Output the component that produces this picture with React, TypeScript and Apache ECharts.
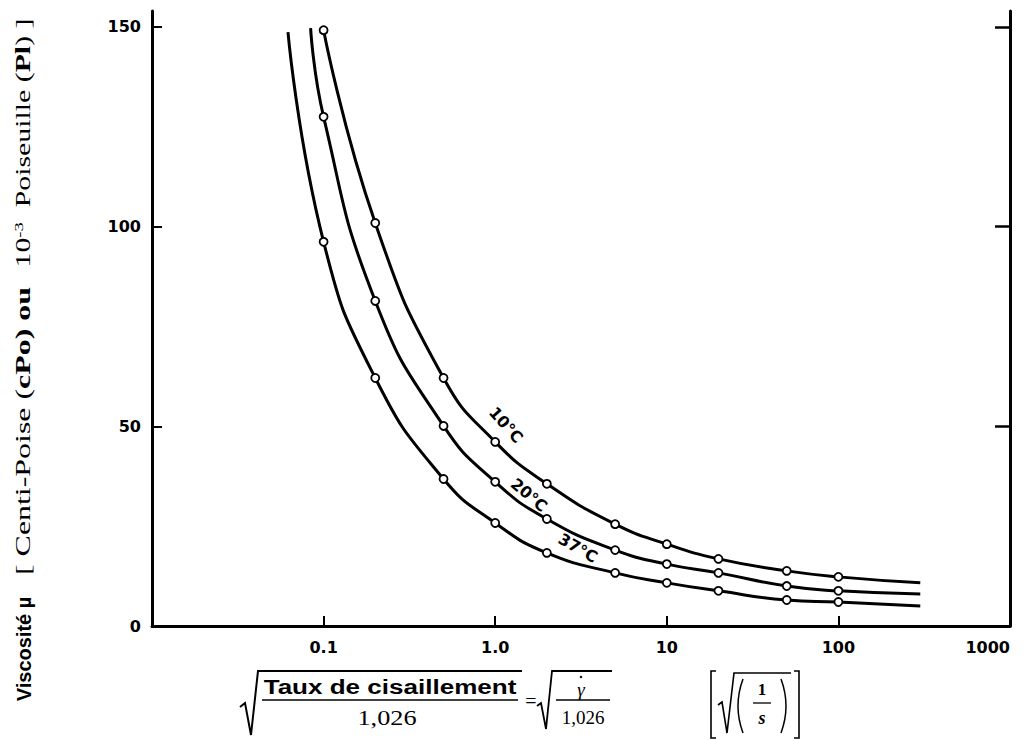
import React, { useEffect, useRef } from 'react';
import * as echarts from 'echarts';

// ---- data ----
const shearRate = [0.1, 0.2, 0.5, 1, 2, 5, 10, 20, 50, 100];
const visc10C = [149.2, 100.9, 62.1, 46.1, 35.6, 25.5, 20.5, 16.8, 13.8, 12.3];
const visc20C = [127.5, 81.4, 50.1, 36.1, 26.8, 19.0, 15.5, 13.3, 10.0, 8.8];
const visc37C = [96.2, 62.1, 36.8, 25.8, 18.3, 13.3, 10.8, 8.8, 6.5, 6.0];
// curve ends drawn without markers
const curveStartRate = [null, 0.084, 0.062];
const curveStartVisc = [null, 149.7, 148.7];
const curveEndRate = 300;
const curveEndVisc = [10.8, 8.0, 5.0];
const seriesNames = ['10°C', '20°C', '37°C'];
const xTicks = [0.01, 0.1, 1, 10, 100, 1000];
const xTickLabels = ['', '0.1', '1.0', '10', '100', '1000'];
const yTicks = [0, 50, 100, 150];
const yRightTicks = [50, 100, 150];

const SERIF = '"Liberation Serif", "DejaVu Serif", serif';
const SANS = '"Liberation Sans", Arial, sans-serif';
const TICKFONT = '"DejaVu Sans", sans-serif';

function txt(x: number, y: number, text: string, font: string, extra: any = {}) {
  return {
    type: 'text',
    x,
    y,
    ...extra,
    style: {
      text,
      font,
      fill: '#000',
      align: 'center',
      verticalAlign: 'middle',
      textAlign: 'center',
      textVerticalAlign: 'middle',
      ...(extra.style || {}),
    },
  };
}

function poly(points: number[][], lineWidth = 2) {
  return {
    type: 'polyline',
    shape: { points },
    style: { stroke: '#000', lineWidth, fill: null },
  };
}

function seg(x1: number, y1: number, x2: number, y2: number, lineWidth = 1.5) {
  return {
    type: 'line',
    shape: { x1, y1, x2, y2 },
    style: { stroke: '#000', lineWidth },
  };
}

export default function App() {
  const ref = useRef<HTMLDivElement>(null);

  useEffect(() => {
    if (!ref.current) return;
    const chart = echarts.init(ref.current, undefined, { renderer: 'svg' });
    const allVisc = [visc10C, visc20C, visc37C];

    const series = allVisc.map((vals, i) => {
      const data: any[] = [];
      if (curveStartRate[i] != null) {
        data.push({ value: [curveStartRate[i], curveStartVisc[i]], symbol: 'none' });
      }
      shearRate.forEach((x, j) => data.push({ value: [x, vals[j]] }));
      data.push({ value: [curveEndRate, curveEndVisc[i]], symbol: 'none' });
      return {
        name: seriesNames[i],
        type: 'line',
        data,
        smooth: 0.5,
        symbol: 'circle',
        symbolSize: 8,
        showSymbol: true,
        lineStyle: { color: '#000', width: 3 },
        itemStyle: { color: '#fff', borderColor: '#000', borderWidth: 1.8 },
        z: 3,
      };
    });

    const formatX = (v: number) => {
      const i = xTicks.findIndex((t) => Math.abs(Math.log10(t) - Math.log10(v)) < 1e-6);
      return i >= 0 ? xTickLabels[i] : '';
    };

    const graphic: any[] = [
      // y-axis title (rotated)
      txt(24, 649, 'Viscosité µ', `bold 20px ${SANS}`, { rotation: Math.PI / 2 }),
      txt(23, 431, '[ Centi-Poise ({b|cPo}{b|) ou}', `21px ${SERIF}`, {
        rotation: Math.PI / 2,
        scaleX: 1.52,
        style: { rich: { b: { font: `bold 21px ${SERIF}` } } },
      }),
      txt(23, 143, '10{sup|-3}  Poiseuille ({b|Pl}) ]', `21px ${SERIF}`, {
        rotation: Math.PI / 2,
        scaleX: 1.42,
        style: {
          rich: {
            b: { font: `bold 21px ${SERIF}` },
            sup: { font: `13px ${SERIF}`, verticalAlign: 'top' },
          },
        },
      }),
      // x-axis title
      poly([[240, 707], [245, 703], [251, 735], [258, 671], [522, 671]], 2),
      txt(390, 687, 'Taux de cisaillement', `bold 21px ${SANS}`, { scaleX: 1.24 }),
      seg(262, 700, 518, 700),
      txt(387, 718, '1,026', `21px ${SERIF}`, { scaleX: 1.25 }),
      txt(531, 701, '=', `20px ${SERIF}`),
      poly([[537, 706], [541, 703], [546, 729], [552, 671], [612, 671]], 1.8),
      txt(581, 689, 'γ', `italic 19px ${SERIF}`),
      { type: 'circle', shape: { cx: 581, cy: 677, r: 1.2 }, style: { fill: '#000' } },
      seg(556, 700, 610, 700, 1.3),
      txt(583, 717, '1,026', `19px ${SERIF}`),
      poly([[716, 671], [711, 671], [711, 738], [716, 738]], 1.6),
      poly([[794, 671], [799, 671], [799, 738], [794, 738]], 1.6),
      poly([[718, 705], [722, 702], [727, 733], [734, 673], [791, 673]], 1.6),
      { type: 'bezierCurve', shape: { x1: 743, y1: 679, x2: 743, y2: 733, cpx1: 733, cpy1: 706 }, style: { stroke: '#000', lineWidth: 1.5, fill: null } },
      { type: 'bezierCurve', shape: { x1: 781, y1: 679, x2: 781, y2: 733, cpx1: 791, cpy1: 706 }, style: { stroke: '#000', lineWidth: 1.5, fill: null } },
      txt(762, 689, '1', `bold 17px ${SERIF}`),
      seg(753, 703, 771, 703, 1.3),
      txt(762, 718, 's', `bold italic 18px ${SERIF}`),
      // curve labels
      txt(506, 425, seriesNames[0], `bold 16px ${TICKFONT}`, { rotation: -0.84 }),
      txt(529, 495, seriesNames[1], `bold 16px ${TICKFONT}`, { rotation: -0.7 }),
      txt(578, 548, seriesNames[2], `bold 16px ${TICKFONT}`, { rotation: -0.52 }),
    ];

    chart.setOption({
      animation: false,
      backgroundColor: '#fff',
      grid: { left: 152, right: 13, top: 11, bottom: 114, containLabel: false },
      xAxis: {
        type: 'log',
        logBase: 10,
        min: 0.01,
        max: 1000,
        axisLine: { show: true, lineStyle: { color: '#000', width: 3 } },
        axisTick: { show: true, inside: true, length: 10, lineStyle: { color: '#000', width: 2 } },
        minorTick: { show: false },
        splitLine: { show: false },
        axisLabel: {
          formatter: formatX,
          color: '#000',
          fontFamily: TICKFONT,
          fontWeight: 'bold',
          fontSize: 16,
          margin: 13,
          alignMaxLabel: 'right',
        },
      },
      yAxis: [
        {
          type: 'value',
          min: 0,
          max: 154,
          axisLine: { show: true, lineStyle: { color: '#000', width: 3 } },
          axisTick: { show: true, inside: true, length: 10, customValues: yTicks, lineStyle: { color: '#000', width: 2 } },
          splitLine: { show: false },
          axisLabel: {
            customValues: yTicks,
            color: '#000',
            fontFamily: TICKFONT,
            fontWeight: 'bold',
            fontSize: 16,
            margin: 11,
          },
        },
        {
          type: 'value',
          position: 'right',
          min: 0,
          max: 154,
          axisLine: { show: true, lineStyle: { color: '#000', width: 3 } },
          axisTick: { show: true, inside: true, length: 15, customValues: yRightTicks, lineStyle: { color: '#000', width: 2.5 } },
          splitLine: { show: false },
          axisLabel: { show: false },
        },
      ],
      series,
      graphic,
    });

    return () => chart.dispose();
  }, []);

  return (
    <div
      ref={ref}
      style={{ position: 'fixed', left: 0, top: 0, width: 1023, height: 740, background: '#fff' }}
    />
  );
}
